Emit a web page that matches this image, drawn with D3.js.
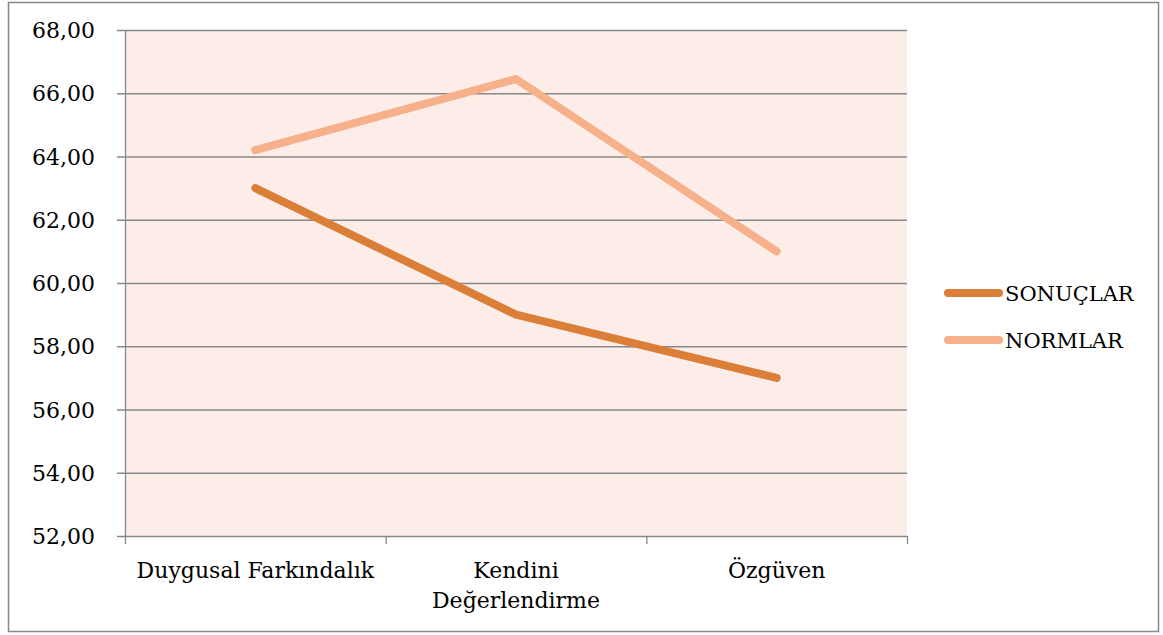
<!DOCTYPE html>
<html><head><meta charset="utf-8">
<script src="https://cdn.jsdelivr.net/npm/d3@7"></script>
<style>body{margin:0;background:#fff}svg{display:block}text{font-family:"DejaVu Serif","Liberation Serif",serif;fill:#000}</style>
</head><body><svg id="c" width="1163" height="635"></svg>
<script>
const categories = ["Duygusal Farkındalık", "Kendini\nDeğerlendirme", "Özgüven"];
const seriesNames = ["SONUÇLAR", "NORMLAR"];
const sonuclar = [63.0, 59.0, 57.0];
const normlar = [64.2, 66.45, 61.0];
const yTicks = [52, 54, 56, 58, 60, 62, 64, 66, 68];
const colors = ["#db7e38", "#f6b08a"];

const svg = d3.select("#c");
const L = 125, R = 907, T = 30, B = 536;
svg.append("rect").attr("x", 8.5).attr("y", 2.5).attr("width", 1150).attr("height", 629)
  .attr("fill", "#fff").attr("stroke", "#888").attr("stroke-width", 1.5);
svg.append("rect").attr("x", L).attr("y", T).attr("width", R - L).attr("height", B - T).attr("fill", "#fcede8");

const x = d3.scaleBand().domain(categories).range([L, R]);
const y = d3.scaleLinear().domain([52, 68]).range([B, T]);

svg.append("g").selectAll("line").data(yTicks).join("line")
  .attr("x1", L - 8).attr("x2", R).attr("y1", d => y(d) + 0.5).attr("y2", d => y(d) + 0.5)
  .attr("stroke", "#888").attr("stroke-width", 1.3);
svg.append("line").attr("x1", L + 0.5).attr("x2", L + 0.5).attr("y1", T).attr("y2", B + 1)
  .attr("stroke", "#888").attr("stroke-width", 1.3);
const bounds = categories.map(c => x(c)).concat([R]);
svg.append("g").selectAll("line").data(bounds).join("line")
  .attr("x1", d => d + 0.5).attr("x2", d => d + 0.5).attr("y1", B).attr("y2", B + 8)
  .attr("stroke", "#888").attr("stroke-width", 1.3);

const fmt = d => d3.format(".2f")(d).replace(".", ",");
svg.append("g").selectAll("text").data(yTicks).join("text")
  .attr("x", 95).attr("y", d => y(d) + 8).attr("text-anchor", "end")
  .attr("font-size", 22).text(fmt);

const xl = svg.append("g").selectAll("text").data(categories).join("text")
  .attr("text-anchor", "middle").attr("font-size", 22)
  .attr("transform", d => `translate(${x(d) + x.bandwidth() / 2},578)`);
xl.each(function(d) {
  const parts = d.split("\n");
  d3.select(this).selectAll("tspan").data(parts).join("tspan")
    .attr("x", 0).attr("dy", (p, i) => i === 0 ? 0 : 30).text(p => p);
});

const line = d3.line().x((v, i) => x(categories[i]) + x.bandwidth() / 2).y(v => y(v));
[sonuclar, normlar].forEach((s, i) => {
  svg.append("path").attr("d", line(s)).attr("fill", "none").attr("stroke", colors[i])
    .attr("stroke-width", 8).attr("stroke-linecap", "round").attr("stroke-linejoin", "round");
});

seriesNames.forEach((n, i) => {
  const ly = 293 + i * 47;
  svg.append("line").attr("x1", 948).attr("x2", 999).attr("y1", ly).attr("y2", ly)
    .attr("stroke", colors[i]).attr("stroke-width", 8).attr("stroke-linecap", "round");
  svg.append("text").attr("x", 1005).attr("y", ly + 8).attr("font-size", 21).text(n);
});
</script></body></html>
